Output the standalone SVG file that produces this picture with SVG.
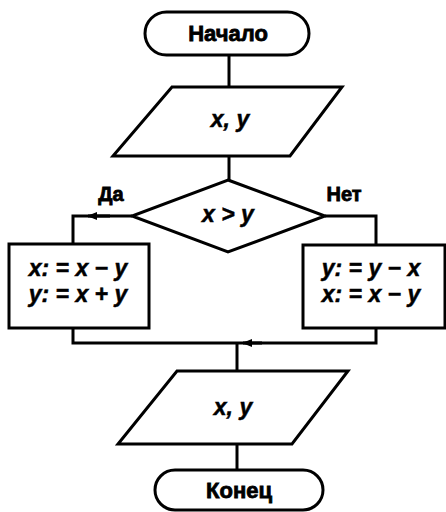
<svg xmlns="http://www.w3.org/2000/svg" width="446" height="512" viewBox="0 0 446 512">
<defs>
<style>
.s{fill:#fff;stroke:#000;stroke-width:3}
.c{fill:none;stroke:#000;stroke-width:3}
.t{font-family:"Liberation Sans",Arial,sans-serif;font-weight:bold;font-size:22px;text-anchor:middle;fill:#000;stroke:#000;stroke-width:0.8}
.m{font-family:"Liberation Sans",Arial,sans-serif;font-weight:bold;font-style:italic;font-size:23px;text-anchor:middle;fill:#000;stroke:#000;stroke-width:0.5}
</style>
<marker id="ah" markerWidth="10" markerHeight="8" refX="9" refY="4" orient="auto" markerUnits="userSpaceOnUse">
<path d="M0,0 L10,4 L0,8 Z" fill="#000"/>
</marker>
</defs>
<rect width="446" height="512" fill="#fff"/>
<g id="connectors">
<line class="c" x1="229" y1="55" x2="229" y2="87"/>
<line class="c" x1="229" y1="156" x2="229" y2="180"/>
<polyline class="c" points="132,216 73,216 73,244"/>
<line class="c" x1="110" y1="216" x2="88" y2="216" marker-end="url(#ah)"/>
<polyline class="c" points="325,216 376,216 376,245"/>
<polyline class="c" points="73,328 73,343 376,343 376,328"/>
<line class="c" x1="262" y1="343" x2="243" y2="343" marker-end="url(#ah)"/>
<line class="c" x1="237" y1="343" x2="237" y2="371"/>
<line class="c" x1="237" y1="444" x2="237" y2="470"/>
</g>
<g id="start">
<rect class="s" x="145" y="12" width="164" height="43" rx="21.5"/>
<text class="t" x="228" y="41">Начало</text>
</g>
<g id="input">
<polygon class="s" points="172,87 342,87 290,156 113,156"/>
<text class="m" x="230" y="127">x, y</text>
</g>
<g id="decision">
<polygon class="s" points="228,180 325,216 228,252 132,216"/>
<text class="m" x="228" y="222">x &gt; y</text>
</g>
<g id="label-yes"><text class="t" x="111" y="201" style="font-size:20px">Да</text></g>
<g id="label-no"><text class="t" x="344" y="201" style="font-size:20px">Нет</text></g>
<g id="left-box">
<rect class="s" x="9" y="244" width="140" height="84"/>
<text class="m" x="78" y="276">x: = x − y</text>
<text class="m" x="78" y="302">y: = x + y</text>
</g>
<g id="right-box">
<rect class="s" x="303" y="245" width="142" height="83"/>
<text class="m" x="371" y="276">y: = y − x</text>
<text class="m" x="371" y="302">x: = x − y</text>
</g>
<g id="output">
<polygon class="s" points="177,371 348,371 292,444 118,444"/>
<text class="m" x="233" y="415">x, y</text>
</g>
<g id="end">
<rect class="s" x="155" y="470" width="168" height="40" rx="20"/>
<text class="t" x="239" y="498">Конец</text>
</g>
</svg>
